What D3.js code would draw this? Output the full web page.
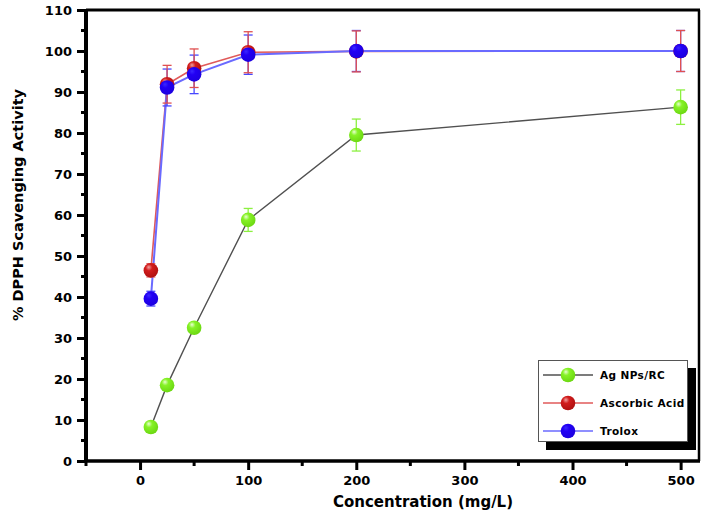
<!DOCTYPE html>
<html><head><meta charset="utf-8">
<script src="https://cdn.jsdelivr.net/npm/d3@7"></script>
<style>body{margin:0;background:#fff}svg{display:block}</style>
</head><body>
<svg id="c" width="705" height="514"></svg>
<script>
const concentrations = [10, 25, 50, 100, 200, 500];
const agValues   = [8.3, 18.5, 32.5, 58.8, 79.5, 86.3];
const agErrors   = [0.8, 1.0, 1.0, 2.8, 3.9, 4.2];
const ascValues  = [46.5, 91.9, 95.8, 99.7, 99.9, 100];
const ascErrors  = [1.6, 4.6, 4.7, 5.0, 5.0, 5.0];
const troValues  = [39.6, 91.1, 94.3, 99.1, 100, 100];
const troErrors  = [1.8, 4.5, 4.7, 4.8, 5.0, 5.0];
const seriesNames = ["Ag NPs/RC", "Ascorbic Acid", "Trolox"];
const xTicks = [0, 100, 200, 300, 400, 500];
const yTicks = [0, 10, 20, 30, 40, 50, 60, 70, 80, 90, 100, 110];

const svg = d3.select("#c");
const L = 86, R = 699, T = 10, B = 461;
const x = d3.scaleLinear().domain([-50, 517]).range([L, R]);
const y = d3.scaleLinear().domain([0, 110]).range([B, T]);
const tickFont = "'Comic Sans MS','DejaVu Sans',sans-serif";

const defs = svg.append("defs");
function grad(id, light, base, dark){
  const g = defs.append("radialGradient").attr("id", id)
    .attr("cx", "40%").attr("cy", "35%").attr("r", "65%").attr("fx", "35%").attr("fy", "28%");
  g.append("stop").attr("offset", "0%").attr("stop-color", light);
  g.append("stop").attr("offset", "35%").attr("stop-color", base);
  g.append("stop").attr("offset", "100%").attr("stop-color", dark);
}
grad("gG", "#e8ffd0", "#86f226", "#6cd812");
grad("gR", "#f0a0a0", "#d21c1c", "#b01010");
grad("gB", "#3a28ff", "#2200f4", "#1c00e0");

const series = [
  {name: seriesNames[0], vals: agValues, errs: agErrors, line: "#505050", lw: 1.4, err: "#8cf040", fill: "url(#gG)"},
  {name: seriesNames[1], vals: ascValues, errs: ascErrors, line: "#e05a5a", lw: 1.6, err: "#e05050", fill: "url(#gR)"},
  {name: seriesNames[2], vals: troValues, errs: troErrors, line: "#6a6aff", lw: 2, err: "#4848ff", fill: "url(#gB)"}
];

// axes
const yAxis = svg.append("g").attr("transform", `translate(${L},0)`)
  .call(d3.axisLeft(y).tickValues(yTicks).tickSize(9).tickPadding(5));
const xAxis = svg.append("g").attr("transform", `translate(0,${B})`)
  .call(d3.axisBottom(x).tickValues(xTicks).tickSize(9).tickPadding(6));
[yAxis, xAxis].forEach(a => {
  a.select(".domain").remove();
  a.selectAll("line").attr("stroke", "#000").attr("stroke-width", 3);
  a.selectAll("text").attr("font-family", tickFont).attr("font-weight", "bold")
    .attr("font-size", 13).attr("fill", "#000");
});
const yMinor = d3.range(5, 110, 10);
svg.append("g").selectAll("line").data(yMinor).join("line")
  .attr("x1", L - 5).attr("x2", L).attr("y1", d => y(d)).attr("y2", d => y(d))
  .attr("stroke", "#000").attr("stroke-width", 3);
const xMinor = d3.range(-50, 500, 100);
svg.append("g").selectAll("line").data(xMinor).join("line")
  .attr("x1", d => x(d)).attr("x2", d => x(d)).attr("y1", B).attr("y2", B + 5)
  .attr("stroke", "#000").attr("stroke-width", 3);

// frame
svg.append("line").attr("x1", L).attr("x2", L).attr("y1", T - 1).attr("y2", B + 1).attr("stroke", "#000").attr("stroke-width", 4);
svg.append("line").attr("x1", L - 2).attr("x2", R + 1).attr("y1", B).attr("y2", B).attr("stroke", "#000").attr("stroke-width", 3.5);
svg.append("line").attr("x1", L).attr("x2", R + 1).attr("y1", T).attr("y2", T).attr("stroke", "#000").attr("stroke-width", 3);
svg.append("line").attr("x1", R).attr("x2", R).attr("y1", T).attr("y2", B).attr("stroke", "#000").attr("stroke-width", 2.5);

// series lines
const line = d3.line().x((d, i) => x(concentrations[i])).y(d => y(d));
series.forEach(s => {
  svg.append("path").datum(s.vals).attr("d", line).attr("fill", "none")
    .attr("stroke", s.line).attr("stroke-width", s.lw);
});
// error bars (green, trolox, ascorbic)
[series[0], series[2], series[1]].forEach(s => {
  const g = svg.append("g");
  s.vals.forEach((v, i) => {
    const cx = x(concentrations[i]), e = s.errs[i];
    g.append("line").attr("x1", cx).attr("x2", cx).attr("y1", y(v + e)).attr("y2", y(v - e)).attr("stroke", s.err).attr("stroke-width", 1.3);
    [v + e, v - e].forEach(w => g.append("line").attr("x1", cx - 4.5).attr("x2", cx + 4.5)
      .attr("y1", y(w)).attr("y2", y(w)).attr("stroke", s.err).attr("stroke-width", 1.3));
  });
});
// markers
series.forEach(s => {
  svg.append("g").selectAll("circle").data(s.vals).join("circle")
    .attr("cx", (d, i) => x(concentrations[i])).attr("cy", d => y(d)).attr("r", 7.3)
    .attr("fill", s.fill);
});

// legend
const lg = svg.append("g");
lg.append("rect").attr("x", 546).attr("y", 368).attr("width", 150).attr("height", 82).attr("fill", "#000");
lg.append("rect").attr("x", 538.5).attr("y", 360.5).attr("width", 149).attr("height", 81)
  .attr("fill", "#fff").attr("stroke", "#555").attr("stroke-width", 1);
const ly = [375, 403, 431];
series.forEach((s, i) => {
  lg.append("line").attr("x1", 543).attr("x2", 593).attr("y1", ly[i]).attr("y2", ly[i])
    .attr("stroke", s.line).attr("stroke-width", 1.3);
  lg.append("circle").attr("cx", 568).attr("cy", ly[i]).attr("r", 7.3).attr("fill", s.fill);
  lg.append("text").attr("x", 600).attr("y", ly[i] + 4).text(s.name)
    .attr("font-family", tickFont).attr("font-weight", "bold").attr("font-size", 10.5)
    .attr("letter-spacing", 0.4).attr("fill", "#000");
});

// titles
svg.append("text").attr("x", 423).attr("y", 507).attr("text-anchor", "middle")
  .attr("font-family", tickFont).attr("font-weight", "bold").attr("font-size", 15)
  .text("Concentration (mg/L)");
svg.append("text").attr("transform", "translate(23,205) rotate(-90)").attr("text-anchor", "middle")
  .attr("font-family", "'DejaVu Sans',Verdana,sans-serif").attr("font-weight", "bold").attr("font-size", 14.5)
  .text("% DPPH Scavenging Activity");
</script>
</body></html>
